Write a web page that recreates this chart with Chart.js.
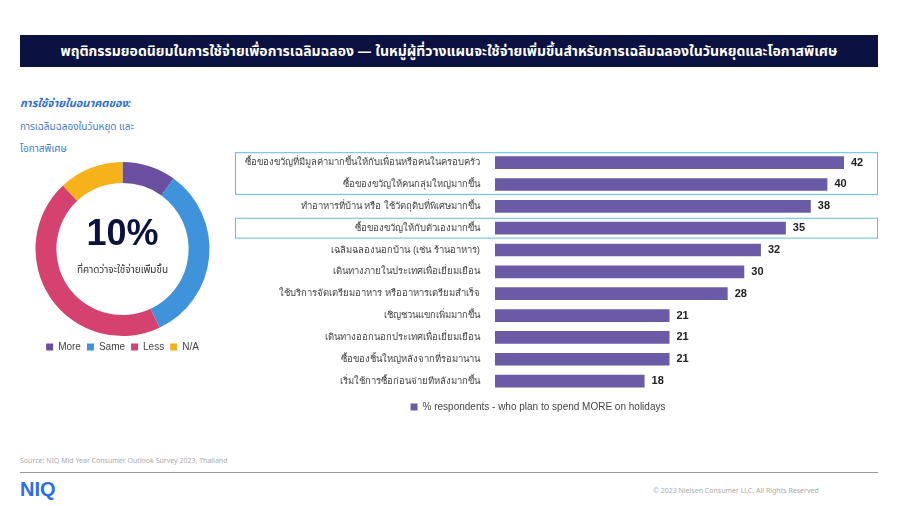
<!DOCTYPE html>
<html><head><meta charset="utf-8">
<script src="https://cdn.jsdelivr.net/npm/chart.js@4"></script>
<style>
body{margin:0;width:900px;height:506px;background:#fff;font-family:"Noto Sans","Noto Sans Thai",Arial,sans-serif;position:relative;overflow:hidden}
.abs{position:absolute}
#title{left:20px;top:35px;width:858px;height:32px;background:#0b1140;color:#fff;font-size:14px;font-weight:bold;line-height:32px;text-align:center}
</style></head><body>
<div id="title" class="abs">พฤติกรรมยอดนิยมในการใช้จ่ายเพื่อการเฉลิมฉลอง — ในหมู่ผู้ที่วางแผนจะใช้จ่ายเพิ่มขึ้นสำหรับการเฉลิมฉลองในวันหยุดและโอกาสพิเศษ</div>
<div class="abs" style="left:20px;top:95px;font-size:11px;font-weight:bold;font-style:italic;color:#2f6fd1">การใช้จ่ายในอนาคตของ:</div>
<div class="abs" style="left:20px;top:115px;font-size:10px;color:#3d7dd6;line-height:22px">การเฉลิมฉลองในวันหยุด และ<br>โอกาสพิเศษ</div>
<div class="abs" style="left:25px;top:162px;width:195px;height:200px"><canvas id="donut"></canvas></div>
<div class="abs" style="left:25px;top:212px;width:195px;text-align:center;font-size:36px;font-weight:bold;color:#0b1140;font-family:Arial,sans-serif">10%</div>
<div class="abs" style="left:25px;top:262px;width:195px;text-align:center;font-size:10px;color:#333">ที่คาดว่าจะใช้จ่ายเพิ่มขึ้น</div>
<div class="abs" style="left:232px;top:139px;width:648px;height:283px"><canvas id="bars"></canvas></div>
<div class="abs" style="left:20px;top:456px;font-size:7px;color:#aaa">Source: NIQ Mid Year Consumer Outlook Survey 2023, Thailand</div>
<div class="abs" style="left:20px;top:472px;width:858px;border-top:1px solid #999"></div>
<div class="abs" style="left:20px;top:478px;font-size:20px;font-weight:900;color:#2a6df0;font-family:Arial,sans-serif">NIQ</div>
<div class="abs" style="left:653px;top:486px;font-size:7px;color:#aaa">© 2023 Nielsen Consumer LLC. All Rights Reserved</div>
<script>
const donutLabels = ["More", "Same", "Less", "N/A"];
const donutValues = [10, 33, 45, 12];
const donutColors = ["#6a4fa0", "#3f93db", "#d5426f", "#f5b21a"];

const barLabels = [
  "ซื้อของขวัญที่มีมูลค่ามากขึ้นให้กับเพื่อนหรือคนในครอบครัว",
  "ซื้อของขวัญให้คนกลุ่มใหญ่มากขึ้น",
  "ทำอาหารที่บ้าน หรือ ใช้วัตถุดิบที่พิเศษมากขึ้น",
  "ซื้อของขวัญให้กับตัวเองมากขึ้น",
  "เฉลิมฉลองนอกบ้าน (เช่น ร้านอาหาร)",
  "เดินทางภายในประเทศเพื่อเยี่ยมเยือน",
  "ใช้บริการจัดเตรียมอาหาร หรืออาหารเตรียมสำเร็จ",
  "เชิญชวนแขกเพิ่มมากขึ้น",
  "เดินทางออกนอกประเทศเพื่อเยี่ยมเยือน",
  "ซื้อของชิ้นใหญ่หลังจากที่รอมานาน",
  "เริ่มใช้การซื้อก่อนจ่ายทีหลังมากขึ้น"
];
const barValues = [42, 40, 38, 35, 32, 30, 28, 21, 21, 21, 18];
const highlightRows = [[0, 1], [3, 3]];

new Chart(document.getElementById("donut"), {
  type: "doughnut",
  data: { labels: donutLabels, datasets: [{ data: donutValues, backgroundColor: donutColors, borderWidth: 0 }] },
  options: {
    responsive: true, maintainAspectRatio: false, cutout: "76%", animation: false,
    plugins: {
      tooltip: { enabled: false },
      legend: { position: "bottom", labels: { boxWidth: 7, boxHeight: 7, padding: 6, color: "#444", font: { size: 10 } } }
    }
  }
});

const extras = {
  id: "extras",
  beforeDatasetsDraw(chart) {
    const ctx = chart.ctx, y = chart.scales.y;
    const half = (y.getPixelForValue(1) - y.getPixelForValue(0)) / 2;
    ctx.save();
    ctx.strokeStyle = "#5bc0de";
    ctx.lineWidth = 1;
    highlightRows.forEach(([a, b]) => {
      const top = y.getPixelForValue(a) - half + 1;
      const bot = y.getPixelForValue(b) + half - 1;
      ctx.strokeRect(3.5, top, chart.width - 6, bot - top);
    });
    ctx.restore();
  },
  afterDatasetsDraw(chart) {
    const ctx = chart.ctx;
    ctx.save();
    ctx.font = "bold 11px Arial";
    ctx.fillStyle = "#222";
    ctx.textBaseline = "middle";
    chart.getDatasetMeta(0).data.forEach((bar, i) => {
      ctx.fillText(barValues[i], bar.x + 7, bar.y);
    });
    ctx.restore();
  }
};

new Chart(document.getElementById("bars"), {
  type: "bar",
  data: { labels: barLabels, datasets: [{ label: "% respondents - who plan to spend MORE on holidays", data: barValues, backgroundColor: "#6b5aa6", barPercentage: 0.58, categoryPercentage: 1 }] },
  options: {
    indexAxis: "y", responsive: true, maintainAspectRatio: false, animation: false,
    layout: { padding: { left: 0, right: 36, top: 0 } },
    scales: {
      x: { display: false, min: 0, max: 42 },
      y: {
        grid: { display: false }, border: { display: false },
        ticks: { color: "#444", font: { size: 9.5 }, padding: 7 },
        afterFit(scale) { scale.width = 263; }
      }
    },
    plugins: {
      tooltip: { enabled: false },
      legend: { position: "bottom", labels: { boxWidth: 7, boxHeight: 7, color: "#444", font: { size: 10 } } }
    }
  },
  plugins: [extras]
});
</script>
</body></html>
